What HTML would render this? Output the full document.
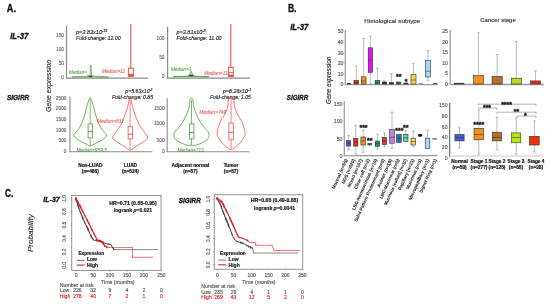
<!DOCTYPE html>
<html><head><meta charset="utf-8"><style>
html,body{margin:0;padding:0;background:#fff;width:550px;height:305px;overflow:hidden}
svg{display:block;font-family:"Liberation Sans", sans-serif;will-change:transform}
</style></head><body>
<svg width="550" height="305" viewBox="0 0 550 305">
<rect width="550" height="305" fill="#fff"/>
<text x="6.8" y="8.6" font-size="10.2" text-anchor="start" font-weight="bold" font-style="normal" fill="#111" stroke="#111" stroke-width="0.3" dominant-baseline="central"  textLength="9.2" lengthAdjust="spacingAndGlyphs">A.</text>
<text x="10.2" y="36" font-size="8.5" text-anchor="start" font-weight="bold" font-style="italic" fill="#111" stroke="#111" stroke-width="0.3" dominant-baseline="central"  textLength="18.2" lengthAdjust="spacingAndGlyphs">IL-37</text>
<text x="6.9" y="97.4" font-size="7.5" text-anchor="start" font-weight="bold" font-style="italic" fill="#111" stroke="#111" stroke-width="0.3" dominant-baseline="central"  textLength="22.4" lengthAdjust="spacingAndGlyphs">SIGIRR</text>
<text x="48.8" y="85.9" font-size="8.0" text-anchor="middle" font-weight="normal" font-style="italic" fill="#222" stroke="#222" stroke-width="0.084" dominant-baseline="central" transform="rotate(-90 48.8 85.9)"  textLength="52" lengthAdjust="spacingAndGlyphs">Gene expression</text>
<line x1="66.5" y1="26" x2="66.5" y2="78.5" stroke="#8c8c8c" stroke-width="1.2"/>
<line x1="66" y1="78.2" x2="148" y2="78.2" stroke="#8c8c8c" stroke-width="1.2"/>
<text x="64" y="35.6" font-size="4.8" text-anchor="end" font-weight="normal" font-style="normal" fill="#555" stroke="#555" stroke-width="0.08" dominant-baseline="central" >150</text>
<text x="64" y="49.9" font-size="4.8" text-anchor="end" font-weight="normal" font-style="normal" fill="#555" stroke="#555" stroke-width="0.08" dominant-baseline="central" >100</text>
<text x="64" y="63.9" font-size="4.8" text-anchor="end" font-weight="normal" font-style="normal" fill="#555" stroke="#555" stroke-width="0.08" dominant-baseline="central" >50</text>
<text x="64" y="77.4" font-size="4.8" text-anchor="end" font-weight="normal" font-style="normal" fill="#555" stroke="#555" stroke-width="0.08" dominant-baseline="central" >0</text>
<text x="76" y="32" font-size="5.4" text-anchor="start" font-weight="normal" font-style="italic" fill="#222" stroke="#222" stroke-width="0.14" dominant-baseline="central"  textLength="31.5" lengthAdjust="spacingAndGlyphs">p=3.83x10<tspan dy="-1.1" font-size="3.7">-19</tspan></text>
<text x="76" y="38.2" font-size="5.4" text-anchor="start" font-weight="normal" font-style="italic" fill="#222" stroke="#222" stroke-width="0.14" dominant-baseline="central"  textLength="44.5" lengthAdjust="spacingAndGlyphs">Fold-change: 12.00</text>
<line x1="130.8" y1="24" x2="130.8" y2="68" stroke="#f0504a" stroke-width="1.1"/>
<rect x="128.4" y="68.2" width="5" height="8.2" fill="#fff" stroke="#f0504a" stroke-width="1"/>
<rect x="128.4" y="73.9" width="5" height="2.5" fill="#f0504a"/>
<text x="102" y="71" font-size="5.2" text-anchor="start" font-weight="normal" font-style="italic" fill="#f0504a" stroke="#f0504a" stroke-width="0.06" dominant-baseline="central"  textLength="23.2" lengthAdjust="spacingAndGlyphs">Median=11</text>
<path d="M71.8,77 L86,76.2 L90,75.5 L90.6,65 L91,65 L91.4,75.5 L95,76.2 L108.5,77 Z" fill="none" stroke="#4c9a3c" stroke-width="0.7"/>
<ellipse cx="90.5" cy="76.3" rx="2.3" ry="0.9" fill="#1f5f1a"/>
<text x="69" y="72" font-size="5.2" text-anchor="start" font-weight="normal" font-style="italic" fill="#4c9a3c" stroke="#4c9a3c" stroke-width="0.06" dominant-baseline="central"  textLength="18" lengthAdjust="spacingAndGlyphs">Median=</text>
<line x1="167.6" y1="26.5" x2="167.6" y2="78.5" stroke="#8c8c8c" stroke-width="1.2"/>
<line x1="166.5" y1="78.2" x2="250" y2="78.2" stroke="#8c8c8c" stroke-width="1.2"/>
<text x="164.5" y="38" font-size="4.8" text-anchor="end" font-weight="normal" font-style="normal" fill="#555" stroke="#555" stroke-width="0.08" dominant-baseline="central" >100</text>
<text x="164.5" y="57" font-size="4.8" text-anchor="end" font-weight="normal" font-style="normal" fill="#555" stroke="#555" stroke-width="0.08" dominant-baseline="central" >50</text>
<text x="164.5" y="76.5" font-size="4.8" text-anchor="end" font-weight="normal" font-style="normal" fill="#555" stroke="#555" stroke-width="0.08" dominant-baseline="central" >0</text>
<text x="176.5" y="32" font-size="5.4" text-anchor="start" font-weight="normal" font-style="italic" fill="#222" stroke="#222" stroke-width="0.14" dominant-baseline="central"  textLength="29.2" lengthAdjust="spacingAndGlyphs">p=3.81x10<tspan dy="-1.1" font-size="3.7">-8</tspan></text>
<text x="176.5" y="38.2" font-size="5.4" text-anchor="start" font-weight="normal" font-style="italic" fill="#222" stroke="#222" stroke-width="0.14" dominant-baseline="central"  textLength="45" lengthAdjust="spacingAndGlyphs">Fold-change: 11.00</text>
<line x1="230.8" y1="24" x2="230.8" y2="67.3" stroke="#f0504a" stroke-width="1.1"/>
<rect x="228.5" y="67.4" width="4.8" height="9.2" fill="#fff" stroke="#f0504a" stroke-width="1"/>
<line x1="228.5" y1="72.5" x2="233.3" y2="72.5" stroke="#f0504a" stroke-width="0.8"/>
<rect x="228.5" y="74.5" width="4.8" height="2.1" fill="#f0504a"/>
<text x="204.2" y="73.3" font-size="5.2" text-anchor="start" font-weight="normal" font-style="italic" fill="#f0504a" stroke="#f0504a" stroke-width="0.06" dominant-baseline="central"  textLength="23.4" lengthAdjust="spacingAndGlyphs">Median=11</text>
<path d="M173,76.7 L187,76.2 L189.5,75.2 L190.7,71.5 L191.3,71.5 L192.5,75.2 L195,76.2 L209,76.7 Z" fill="none" stroke="#4c9a3c" stroke-width="0.8"/>
<ellipse cx="191.2" cy="75.6" rx="2.6" ry="1.1" fill="#1f5f1a"/>
<text x="171" y="68.5" font-size="5.2" text-anchor="start" font-weight="normal" font-style="italic" fill="#4c9a3c" stroke="#4c9a3c" stroke-width="0.06" dominant-baseline="central"  textLength="20.4" lengthAdjust="spacingAndGlyphs">Median=1</text>
<line x1="70" y1="96.5" x2="70" y2="152" stroke="#8c8c8c" stroke-width="1.1"/>
<line x1="69.5" y1="151.8" x2="152.3" y2="151.8" stroke="#8c8c8c" stroke-width="1.1"/>
<text x="66.5" y="98.3" font-size="4.8" text-anchor="end" font-weight="normal" font-style="normal" fill="#555" stroke="#555" stroke-width="0.08" dominant-baseline="central" >2500</text>
<text x="66.5" y="108.9" font-size="4.8" text-anchor="end" font-weight="normal" font-style="normal" fill="#555" stroke="#555" stroke-width="0.08" dominant-baseline="central" >2000</text>
<text x="66.5" y="119.4" font-size="4.8" text-anchor="end" font-weight="normal" font-style="normal" fill="#555" stroke="#555" stroke-width="0.08" dominant-baseline="central" >1500</text>
<text x="66.5" y="130.2" font-size="4.8" text-anchor="end" font-weight="normal" font-style="normal" fill="#555" stroke="#555" stroke-width="0.08" dominant-baseline="central" >1000</text>
<text x="66.5" y="140.7" font-size="4.8" text-anchor="end" font-weight="normal" font-style="normal" fill="#555" stroke="#555" stroke-width="0.08" dominant-baseline="central" >500</text>
<text x="66.5" y="151.5" font-size="4.8" text-anchor="end" font-weight="normal" font-style="normal" fill="#555" stroke="#555" stroke-width="0.08" dominant-baseline="central" >0</text>
<text x="152.8" y="91.2" font-size="5.4" text-anchor="end" font-weight="normal" font-style="italic" fill="#222" stroke="#222" stroke-width="0.14" dominant-baseline="central"  textLength="27.5" lengthAdjust="spacingAndGlyphs">p=5.63x10<tspan dy="-1.1" font-size="3.7">-1</tspan></text>
<text x="153" y="97.3" font-size="5.4" text-anchor="end" font-weight="normal" font-style="italic" fill="#222" stroke="#222" stroke-width="0.14" dominant-baseline="central"  textLength="41" lengthAdjust="spacingAndGlyphs">Fold-change: 0.85</text>
<path d="M90.80,98.40 C91.37,99.38 92.25,101.75 93.00,104.30 C93.75,106.85 94.52,110.92 95.30,113.70 C96.08,116.48 96.77,118.67 97.70,121.00 C98.63,123.33 99.82,125.87 100.90,127.70 C101.98,129.53 103.27,130.77 104.20,132.00 C105.13,133.23 106.58,133.95 106.50,135.10 C106.42,136.25 105.25,137.65 103.70,138.90 C102.15,140.15 99.32,141.45 97.20,142.60 C95.08,143.75 92.30,145.27 91.00,145.80 C89.70,146.33 90.70,146.33 89.40,145.80 C88.10,145.27 85.32,143.75 83.20,142.60 C81.08,141.45 78.25,140.15 76.70,138.90 C75.15,137.65 73.98,136.25 73.90,135.10 C73.82,133.95 75.27,133.23 76.20,132.00 C77.13,130.77 78.42,129.53 79.50,127.70 C80.58,125.87 81.77,123.33 82.70,121.00 C83.63,118.67 84.32,116.48 85.10,113.70 C85.88,110.92 86.65,106.85 87.40,104.30 C88.15,101.75 89.03,99.38 89.60,98.40 C90.17,97.42 90.23,97.42 90.80,98.40 Z" fill="none" stroke="#4c9a3c" stroke-width="0.8"/>
<line x1="90.2" y1="99" x2="90.2" y2="145.8" stroke="#4c9a3c" stroke-width="0.7"/>
<rect x="88.1" y="123.9" width="4.3" height="14" fill="#fff" stroke="#4c9a3c" stroke-width="0.8"/>
<line x1="88.1" y1="131.4" x2="92.4" y2="131.4" stroke="#4c9a3c" stroke-width="1"/>
<path d="M130.70,98.70 C131.18,99.95 131.52,103.08 132.40,106.20 C133.28,109.32 134.75,114.13 136.00,117.40 C137.25,120.67 138.47,123.32 139.90,125.80 C141.33,128.28 143.30,130.28 144.60,132.30 C145.90,134.32 147.87,136.33 147.70,137.90 C147.53,139.47 145.53,140.30 143.60,141.70 C141.67,143.10 138.22,144.92 136.10,146.30 C133.98,147.68 132.03,149.38 130.90,150.00 C129.77,150.62 130.43,150.62 129.30,150.00 C128.17,149.38 126.22,147.68 124.10,146.30 C121.98,144.92 118.53,143.10 116.60,141.70 C114.67,140.30 112.67,139.47 112.50,137.90 C112.33,136.33 114.30,134.32 115.60,132.30 C116.90,130.28 118.87,128.28 120.30,125.80 C121.73,123.32 122.95,120.67 124.20,117.40 C125.45,114.13 126.92,109.32 127.80,106.20 C128.68,103.08 129.02,99.95 129.50,98.70 C129.98,97.45 130.22,97.45 130.70,98.70 Z" fill="none" stroke="#f0504a" stroke-width="0.8"/>
<line x1="130.1" y1="99.5" x2="130.1" y2="150" stroke="#f0504a" stroke-width="0.7"/>
<rect x="128.1" y="126.7" width="4.3" height="12.2" fill="#fff" stroke="#f0504a" stroke-width="0.8"/>
<line x1="128.1" y1="134.2" x2="132.4" y2="134.2" stroke="#f0504a" stroke-width="1"/>
<text x="76.4" y="150.4" font-size="5.2" text-anchor="start" font-weight="normal" font-style="italic" fill="#4c9a3c" stroke="#4c9a3c" stroke-width="0.06" dominant-baseline="central"  textLength="30.4" lengthAdjust="spacingAndGlyphs">Median=959.5</text>
<text x="97" y="120.5" font-size="5.2" text-anchor="start" font-weight="normal" font-style="italic" fill="#f0504a" stroke="#f0504a" stroke-width="0.06" dominant-baseline="central"  textLength="27" lengthAdjust="spacingAndGlyphs">Median=811</text>
<line x1="167.2" y1="98.3" x2="167.2" y2="152" stroke="#8c8c8c" stroke-width="1.1"/>
<line x1="166.7" y1="151.8" x2="249.3" y2="151.8" stroke="#8c8c8c" stroke-width="1.1"/>
<text x="164.6" y="108" font-size="4.8" text-anchor="end" font-weight="normal" font-style="normal" fill="#555" stroke="#555" stroke-width="0.08" dominant-baseline="central" >1500</text>
<text x="164.6" y="123.5" font-size="4.8" text-anchor="end" font-weight="normal" font-style="normal" fill="#555" stroke="#555" stroke-width="0.08" dominant-baseline="central" >1000</text>
<text x="164.6" y="140" font-size="4.8" text-anchor="end" font-weight="normal" font-style="normal" fill="#555" stroke="#555" stroke-width="0.08" dominant-baseline="central" >500</text>
<text x="164.6" y="151.5" font-size="4.8" text-anchor="end" font-weight="normal" font-style="normal" fill="#555" stroke="#555" stroke-width="0.08" dominant-baseline="central" >0</text>
<text x="251.2" y="91" font-size="5.4" text-anchor="end" font-weight="normal" font-style="italic" fill="#222" stroke="#222" stroke-width="0.14" dominant-baseline="central"  textLength="28.3" lengthAdjust="spacingAndGlyphs">p=6.28x10<tspan dy="-1.1" font-size="3.7">-1</tspan></text>
<text x="250.8" y="97.1" font-size="5.4" text-anchor="end" font-weight="normal" font-style="italic" fill="#222" stroke="#222" stroke-width="0.14" dominant-baseline="central"  textLength="40.8" lengthAdjust="spacingAndGlyphs">Fold-change: 1.05</text>
<path d="M192.70,99.10 C193.25,100.28 193.02,103.77 193.60,106.20 C194.18,108.63 195.18,111.22 196.20,113.70 C197.22,116.18 198.32,118.77 199.70,121.10 C201.08,123.43 202.98,125.67 204.50,127.70 C206.02,129.73 208.25,131.43 208.80,133.30 C209.35,135.17 208.85,137.35 207.80,138.90 C206.75,140.45 204.38,141.58 202.50,142.60 C200.62,143.62 198.25,144.55 196.50,145.00 C194.75,145.45 192.92,145.25 192.00,145.30 C191.08,145.35 191.92,145.35 191.00,145.30 C190.08,145.25 188.25,145.45 186.50,145.00 C184.75,144.55 182.38,143.62 180.50,142.60 C178.62,141.58 176.25,140.45 175.20,138.90 C174.15,137.35 173.65,135.17 174.20,133.30 C174.75,131.43 176.98,129.73 178.50,127.70 C180.02,125.67 181.92,123.43 183.30,121.10 C184.68,118.77 185.78,116.18 186.80,113.70 C187.82,111.22 188.82,108.63 189.40,106.20 C189.98,103.77 189.75,100.28 190.30,99.10 C190.85,97.92 192.15,97.92 192.70,99.10 Z" fill="none" stroke="#4c9a3c" stroke-width="0.8"/>
<line x1="191.5" y1="100" x2="191.5" y2="145" stroke="#4c9a3c" stroke-width="0.7"/>
<rect x="189.6" y="123.9" width="4.3" height="15" fill="#fff" stroke="#4c9a3c" stroke-width="0.8"/>
<line x1="189.6" y1="132.3" x2="193.9" y2="132.3" stroke="#4c9a3c" stroke-width="1"/>
<path d="M233.40,98.70 C234.33,99.95 233.78,103.70 234.40,106.20 C235.02,108.70 235.90,111.22 237.10,113.70 C238.30,116.18 240.50,118.93 241.60,121.10 C242.70,123.27 243.12,124.52 243.70,126.70 C244.28,128.88 245.33,132.02 245.10,134.20 C244.87,136.38 243.55,137.93 242.30,139.80 C241.05,141.67 239.22,143.85 237.60,145.40 C235.98,146.95 233.93,148.48 232.60,149.10 C231.27,149.72 230.93,149.72 229.60,149.10 C228.27,148.48 226.22,146.95 224.60,145.40 C222.98,143.85 221.15,141.67 219.90,139.80 C218.65,137.93 217.33,136.38 217.10,134.20 C216.87,132.02 217.92,128.88 218.50,126.70 C219.08,124.52 219.50,123.27 220.60,121.10 C221.70,118.93 223.90,116.18 225.10,113.70 C226.30,111.22 227.18,108.70 227.80,106.20 C228.42,103.70 227.87,99.95 228.80,98.70 C229.73,97.45 232.47,97.45 233.40,98.70 Z" fill="none" stroke="#f0504a" stroke-width="0.8"/>
<line x1="231.1" y1="99" x2="231.1" y2="149.1" stroke="#f0504a" stroke-width="0.7"/>
<rect x="228.9" y="123" width="4.4" height="16.8" fill="#fff" stroke="#f0504a" stroke-width="0.8"/>
<line x1="228.9" y1="132.3" x2="233.3" y2="132.3" stroke="#f0504a" stroke-width="1"/>
<text x="177.5" y="150" font-size="5.2" text-anchor="start" font-weight="normal" font-style="italic" fill="#4c9a3c" stroke="#4c9a3c" stroke-width="0.06" dominant-baseline="central"  textLength="26.2" lengthAdjust="spacingAndGlyphs">Median=713</text>
<text x="199.3" y="112" font-size="5.2" text-anchor="start" font-weight="normal" font-style="italic" fill="#f0504a" stroke="#f0504a" stroke-width="0.06" dominant-baseline="central"  textLength="27" lengthAdjust="spacingAndGlyphs">Median=749</text>
<text x="90.3" y="165.8" font-size="4.8" text-anchor="middle" font-weight="bold" font-style="normal" fill="#111" stroke="#111" stroke-width="0.18" dominant-baseline="central" >Non-LUAD</text>
<text x="90.3" y="171.9" font-size="4.8" text-anchor="middle" font-weight="bold" font-style="normal" fill="#111" stroke="#111" stroke-width="0.18" dominant-baseline="central" >(n=486)</text>
<text x="130.4" y="165.8" font-size="4.8" text-anchor="middle" font-weight="bold" font-style="normal" fill="#111" stroke="#111" stroke-width="0.18" dominant-baseline="central" >LUAD</text>
<text x="130.4" y="171.9" font-size="4.8" text-anchor="middle" font-weight="bold" font-style="normal" fill="#111" stroke="#111" stroke-width="0.18" dominant-baseline="central" >(n=524)</text>
<text x="190.4" y="165.8" font-size="4.8" text-anchor="middle" font-weight="bold" font-style="normal" fill="#111" stroke="#111" stroke-width="0.18" dominant-baseline="central" >Adjacent normal</text>
<text x="190.4" y="171.9" font-size="4.8" text-anchor="middle" font-weight="bold" font-style="normal" fill="#111" stroke="#111" stroke-width="0.18" dominant-baseline="central" >(n=57)</text>
<text x="231" y="165.8" font-size="4.8" text-anchor="middle" font-weight="bold" font-style="normal" fill="#111" stroke="#111" stroke-width="0.18" dominant-baseline="central" >Tumor</text>
<text x="231" y="171.9" font-size="4.8" text-anchor="middle" font-weight="bold" font-style="normal" fill="#111" stroke="#111" stroke-width="0.18" dominant-baseline="central" >(n=57)</text>
<text x="287.9" y="8.0" font-size="10.2" text-anchor="start" font-weight="bold" font-style="normal" fill="#111" stroke="#111" stroke-width="0.3" dominant-baseline="central"  textLength="8.6" lengthAdjust="spacingAndGlyphs">B.</text>
<text x="290.2" y="27.2" font-size="8.3" text-anchor="start" font-weight="bold" font-style="italic" fill="#111" stroke="#111" stroke-width="0.3" dominant-baseline="central"  textLength="18.2" lengthAdjust="spacingAndGlyphs">IL-37</text>
<text x="286.8" y="97.4" font-size="7.4" text-anchor="start" font-weight="bold" font-style="italic" fill="#111" stroke="#111" stroke-width="0.3" dominant-baseline="central"  textLength="21.4" lengthAdjust="spacingAndGlyphs">SIGIRR</text>
<text x="328.6" y="80.4" font-size="7.8" text-anchor="middle" font-weight="normal" font-style="italic" fill="#222" stroke="#222" stroke-width="0.084" dominant-baseline="central" transform="rotate(-90 328.6 80.4)"  textLength="47" lengthAdjust="spacingAndGlyphs">Gene expression</text>
<text x="392.3" y="20" font-size="6.2" text-anchor="middle" font-weight="normal" font-style="normal" fill="#333" stroke="#333" stroke-width="0.12" dominant-baseline="central"  textLength="56" lengthAdjust="spacingAndGlyphs">Histological subtype</text>
<text x="498" y="19.7" font-size="6.2" text-anchor="middle" font-weight="normal" font-style="normal" fill="#333" stroke="#333" stroke-width="0.12" dominant-baseline="central"  textLength="35.5" lengthAdjust="spacingAndGlyphs">Cancer stage</text>
<line x1="345.3" y1="30" x2="345.3" y2="84.6" stroke="#999" stroke-width="1.2"/>
<line x1="345.3" y1="84.6" x2="438" y2="84.6" stroke="#999" stroke-width="1.3"/>
<text x="343.5" y="31" font-size="5.2" text-anchor="end" font-weight="normal" font-style="normal" fill="#555" stroke="#555" stroke-width="0.14" dominant-baseline="central" >50</text>
<line x1="344.3" y1="31" x2="345.3" y2="31" stroke="#999" stroke-width="0.5"/>
<text x="343.5" y="42.3" font-size="5.2" text-anchor="end" font-weight="normal" font-style="normal" fill="#555" stroke="#555" stroke-width="0.14" dominant-baseline="central" >40</text>
<line x1="344.3" y1="42.3" x2="345.3" y2="42.3" stroke="#999" stroke-width="0.5"/>
<text x="343.5" y="52.5" font-size="5.2" text-anchor="end" font-weight="normal" font-style="normal" fill="#555" stroke="#555" stroke-width="0.14" dominant-baseline="central" >30</text>
<line x1="344.3" y1="52.5" x2="345.3" y2="52.5" stroke="#999" stroke-width="0.5"/>
<text x="343.5" y="63.3" font-size="5.2" text-anchor="end" font-weight="normal" font-style="normal" fill="#555" stroke="#555" stroke-width="0.14" dominant-baseline="central" >20</text>
<line x1="344.3" y1="63.3" x2="345.3" y2="63.3" stroke="#999" stroke-width="0.5"/>
<text x="343.5" y="73.5" font-size="5.2" text-anchor="end" font-weight="normal" font-style="normal" fill="#555" stroke="#555" stroke-width="0.14" dominant-baseline="central" >10</text>
<line x1="344.3" y1="73.5" x2="345.3" y2="73.5" stroke="#999" stroke-width="0.5"/>
<text x="343.5" y="84.3" font-size="5.2" text-anchor="end" font-weight="normal" font-style="normal" fill="#555" stroke="#555" stroke-width="0.14" dominant-baseline="central" >0</text>
<line x1="344.3" y1="84.3" x2="345.3" y2="84.3" stroke="#999" stroke-width="0.5"/>
<rect x="347.4" y="83.3" width="3.2000000000000455" height="0.7000000000000028" fill="#5070c0" stroke="#222" stroke-width="0.55"/>
<line x1="356.3" y1="66" x2="356.3" y2="80.5" stroke="#888" stroke-width="0.55"/>
<line x1="354.90000000000003" y1="66" x2="357.7" y2="66" stroke="#888" stroke-width="0.55"/>
<rect x="354" y="80.5" width="4.600000000000023" height="3.5" fill="#e8341c" stroke="#222" stroke-width="0.55"/>
<line x1="354" y1="82.5" x2="358.6" y2="82.5" stroke="#222" stroke-width="0.5"/>
<line x1="363.6" y1="38.6" x2="363.6" y2="76.8" stroke="#888" stroke-width="0.55"/>
<line x1="362.20000000000005" y1="38.6" x2="365.0" y2="38.6" stroke="#888" stroke-width="0.55"/>
<rect x="361.2" y="76.8" width="4.800000000000011" height="7.200000000000003" fill="#f39020" stroke="#222" stroke-width="0.55"/>
<line x1="361.2" y1="81" x2="366" y2="81" stroke="#222" stroke-width="0.5"/>
<line x1="370.4" y1="36.2" x2="370.4" y2="47.8" stroke="#888" stroke-width="0.55"/>
<line x1="369.0" y1="36.2" x2="371.79999999999995" y2="36.2" stroke="#888" stroke-width="0.55"/>
<line x1="370.4" y1="72.4" x2="370.4" y2="84" stroke="#888" stroke-width="0.55"/>
<line x1="369.0" y1="84" x2="371.79999999999995" y2="84" stroke="#888" stroke-width="0.55"/>
<rect x="368.2" y="47.8" width="4.400000000000034" height="24.60000000000001" fill="#e010f0" stroke="#222" stroke-width="0.55"/>
<line x1="368.2" y1="60.1" x2="372.6" y2="60.1" stroke="#222" stroke-width="0.5"/>
<line x1="377.45000000000005" y1="68.2" x2="377.45000000000005" y2="80.5" stroke="#888" stroke-width="0.55"/>
<line x1="376.05000000000007" y1="68.2" x2="378.85" y2="68.2" stroke="#888" stroke-width="0.55"/>
<rect x="375.1" y="80.5" width="4.699999999999989" height="3.5" fill="#20a060" stroke="#222" stroke-width="0.55"/>
<line x1="375.1" y1="82.3" x2="379.8" y2="82.3" stroke="#222" stroke-width="0.5"/>
<line x1="384.4" y1="81" x2="384.4" y2="82" stroke="#888" stroke-width="0.55"/>
<line x1="383.0" y1="81" x2="385.79999999999995" y2="81" stroke="#888" stroke-width="0.55"/>
<rect x="382.2" y="82" width="4.400000000000034" height="2" fill="#333" stroke="#222" stroke-width="0.55"/>
<line x1="391.45000000000005" y1="73.5" x2="391.45000000000005" y2="82.5" stroke="#888" stroke-width="0.55"/>
<line x1="390.05000000000007" y1="73.5" x2="392.85" y2="73.5" stroke="#888" stroke-width="0.55"/>
<rect x="389.3" y="82.5" width="4.300000000000011" height="1.5" fill="#333" stroke="#222" stroke-width="0.55"/>
<rect x="396.6" y="82" width="4.199999999999989" height="2" fill="#3060b0" stroke="#222" stroke-width="0.55"/>
<rect x="403.8" y="83" width="4.199999999999989" height="1" fill="#333" stroke="#222" stroke-width="0.55"/>
<line x1="413.5" y1="63.3" x2="413.5" y2="74.3" stroke="#888" stroke-width="0.55"/>
<line x1="412.1" y1="63.3" x2="414.9" y2="63.3" stroke="#888" stroke-width="0.55"/>
<rect x="411" y="74.3" width="5" height="9.700000000000003" fill="#f8d840" stroke="#222" stroke-width="0.55"/>
<line x1="411" y1="80" x2="416" y2="80" stroke="#222" stroke-width="0.5"/>
<rect x="418.8" y="83.6" width="4.199999999999989" height="0.4000000000000057" fill="#999" stroke="#999" stroke-width="0.55"/>
<line x1="427.9" y1="50.7" x2="427.9" y2="60.7" stroke="#888" stroke-width="0.55"/>
<line x1="426.5" y1="50.7" x2="429.29999999999995" y2="50.7" stroke="#888" stroke-width="0.55"/>
<line x1="427.9" y1="77" x2="427.9" y2="80.3" stroke="#888" stroke-width="0.55"/>
<line x1="426.5" y1="80.3" x2="429.29999999999995" y2="80.3" stroke="#888" stroke-width="0.55"/>
<rect x="425.4" y="60.7" width="5.0" height="16.299999999999997" fill="#a8d8f8" stroke="#222" stroke-width="0.55"/>
<line x1="425.4" y1="71.2" x2="430.4" y2="71.2" stroke="#222" stroke-width="0.5"/>
<rect x="433.6" y="83.5" width="3.3999999999999773" height="0.5" fill="#555" stroke="#555" stroke-width="0.55"/>
<text x="398.7" y="76.3" font-size="7" text-anchor="middle" font-weight="bold" font-style="normal" fill="#111" stroke="#111" stroke-width="0.3" dominant-baseline="central" >**</text>
<text x="406" y="81.3" font-size="7" text-anchor="middle" font-weight="bold" font-style="normal" fill="#111" stroke="#111" stroke-width="0.3" dominant-baseline="central" >*</text>
<line x1="450.2" y1="30" x2="450.2" y2="84.3" stroke="#999" stroke-width="1.2"/>
<line x1="450.2" y1="84.5" x2="543.7" y2="84.5" stroke="#999" stroke-width="1.3"/>
<text x="448" y="31" font-size="5.2" text-anchor="end" font-weight="normal" font-style="normal" fill="#555" stroke="#555" stroke-width="0.14" dominant-baseline="central" >25</text>
<line x1="449.2" y1="31" x2="450.2" y2="31" stroke="#999" stroke-width="0.5"/>
<text x="448" y="42" font-size="5.2" text-anchor="end" font-weight="normal" font-style="normal" fill="#555" stroke="#555" stroke-width="0.14" dominant-baseline="central" >20</text>
<line x1="449.2" y1="42" x2="450.2" y2="42" stroke="#999" stroke-width="0.5"/>
<text x="448" y="52.2" font-size="5.2" text-anchor="end" font-weight="normal" font-style="normal" fill="#555" stroke="#555" stroke-width="0.14" dominant-baseline="central" >15</text>
<line x1="449.2" y1="52.2" x2="450.2" y2="52.2" stroke="#999" stroke-width="0.5"/>
<text x="448" y="62.6" font-size="5.2" text-anchor="end" font-weight="normal" font-style="normal" fill="#555" stroke="#555" stroke-width="0.14" dominant-baseline="central" >10</text>
<line x1="449.2" y1="62.6" x2="450.2" y2="62.6" stroke="#999" stroke-width="0.5"/>
<text x="448" y="73" font-size="5.2" text-anchor="end" font-weight="normal" font-style="normal" fill="#555" stroke="#555" stroke-width="0.14" dominant-baseline="central" >5</text>
<line x1="449.2" y1="73" x2="450.2" y2="73" stroke="#999" stroke-width="0.5"/>
<text x="448" y="83.5" font-size="5.2" text-anchor="end" font-weight="normal" font-style="normal" fill="#555" stroke="#555" stroke-width="0.14" dominant-baseline="central" >0</text>
<line x1="449.2" y1="83.5" x2="450.2" y2="83.5" stroke="#999" stroke-width="0.5"/>
<rect x="454.4" y="83.2" width="9.600000000000023" height="0.7999999999999972" fill="#5060b0" stroke="#222" stroke-width="0.55"/>
<line x1="478.45000000000005" y1="32.8" x2="478.45000000000005" y2="75.6" stroke="#888" stroke-width="0.55"/>
<line x1="477.05000000000007" y1="32.8" x2="479.85" y2="32.8" stroke="#888" stroke-width="0.55"/>
<rect x="473.6" y="75.6" width="9.699999999999989" height="8.400000000000006" fill="#f39020" stroke="#222" stroke-width="0.55"/>
<line x1="497.1" y1="54.6" x2="497.1" y2="76.4" stroke="#888" stroke-width="0.55"/>
<line x1="495.70000000000005" y1="54.6" x2="498.5" y2="54.6" stroke="#888" stroke-width="0.55"/>
<rect x="492" y="76.4" width="10.199999999999989" height="7.599999999999994" fill="#b87030" stroke="#222" stroke-width="0.55"/>
<line x1="516.4" y1="41.5" x2="516.4" y2="78.2" stroke="#888" stroke-width="0.55"/>
<line x1="515.0" y1="41.5" x2="517.8" y2="41.5" stroke="#888" stroke-width="0.55"/>
<rect x="511.4" y="78.2" width="10.0" height="5.799999999999997" fill="#b0e020" stroke="#222" stroke-width="0.55"/>
<line x1="535.5" y1="70.9" x2="535.5" y2="80.9" stroke="#888" stroke-width="0.55"/>
<line x1="534.1" y1="70.9" x2="536.9" y2="70.9" stroke="#888" stroke-width="0.55"/>
<rect x="530.5" y="80.9" width="10.0" height="3.0999999999999943" fill="#e83010" stroke="#222" stroke-width="0.55"/>
<line x1="344.3" y1="101" x2="344.3" y2="156" stroke="#999" stroke-width="1.2"/>
<line x1="344.3" y1="155.6" x2="437.5" y2="155.6" stroke="#999" stroke-width="1.2"/>
<text x="342.5" y="103.8" font-size="5.2" text-anchor="end" font-weight="normal" font-style="normal" fill="#555" stroke="#555" stroke-width="0.14" dominant-baseline="central" >150</text>
<line x1="343.3" y1="103.8" x2="344.3" y2="103.8" stroke="#999" stroke-width="0.5"/>
<text x="342.5" y="121" font-size="5.2" text-anchor="end" font-weight="normal" font-style="normal" fill="#555" stroke="#555" stroke-width="0.14" dominant-baseline="central" >100</text>
<line x1="343.3" y1="121" x2="344.3" y2="121" stroke="#999" stroke-width="0.5"/>
<text x="342.5" y="138.6" font-size="5.2" text-anchor="end" font-weight="normal" font-style="normal" fill="#555" stroke="#555" stroke-width="0.14" dominant-baseline="central" >50</text>
<line x1="343.3" y1="138.6" x2="344.3" y2="138.6" stroke="#999" stroke-width="0.5"/>
<text x="342.5" y="155.8" font-size="5.2" text-anchor="end" font-weight="normal" font-style="normal" fill="#555" stroke="#555" stroke-width="0.14" dominant-baseline="central" >0</text>
<line x1="343.3" y1="155.8" x2="344.3" y2="155.8" stroke="#999" stroke-width="0.5"/>
<line x1="348.55" y1="135.6" x2="348.55" y2="140.7" stroke="#888" stroke-width="0.55"/>
<line x1="347.15000000000003" y1="135.6" x2="349.95" y2="135.6" stroke="#888" stroke-width="0.55"/>
<line x1="348.55" y1="146.1" x2="348.55" y2="150" stroke="#888" stroke-width="0.55"/>
<line x1="347.15000000000003" y1="150" x2="349.95" y2="150" stroke="#888" stroke-width="0.55"/>
<rect x="346.5" y="140.7" width="4.100000000000023" height="5.400000000000006" fill="#3b5fd8" stroke="#222" stroke-width="0.55"/>
<line x1="346.5" y1="143.3" x2="350.6" y2="143.3" stroke="#222" stroke-width="0.5"/>
<line x1="355.79999999999995" y1="125.4" x2="355.79999999999995" y2="138.3" stroke="#888" stroke-width="0.55"/>
<line x1="354.4" y1="125.4" x2="357.19999999999993" y2="125.4" stroke="#888" stroke-width="0.55"/>
<line x1="355.79999999999995" y1="146.1" x2="355.79999999999995" y2="154" stroke="#888" stroke-width="0.55"/>
<line x1="354.4" y1="154" x2="357.19999999999993" y2="154" stroke="#888" stroke-width="0.55"/>
<rect x="353.7" y="138.3" width="4.199999999999989" height="7.799999999999983" fill="#e83020" stroke="#222" stroke-width="0.55"/>
<line x1="353.7" y1="141.9" x2="357.9" y2="141.9" stroke="#222" stroke-width="0.5"/>
<line x1="363.15" y1="130.2" x2="363.15" y2="137" stroke="#888" stroke-width="0.55"/>
<line x1="361.75" y1="130.2" x2="364.54999999999995" y2="130.2" stroke="#888" stroke-width="0.55"/>
<line x1="363.15" y1="145" x2="363.15" y2="152.2" stroke="#888" stroke-width="0.55"/>
<line x1="361.75" y1="152.2" x2="364.54999999999995" y2="152.2" stroke="#888" stroke-width="0.55"/>
<rect x="360.9" y="137" width="4.5" height="8" fill="#f39020" stroke="#222" stroke-width="0.55"/>
<line x1="360.9" y1="141" x2="365.4" y2="141" stroke="#222" stroke-width="0.5"/>
<rect x="367.8" y="143.4" width="3.8999999999999773" height="1.5999999999999943" fill="#8040a0" stroke="#222" stroke-width="0.55"/>
<line x1="377.4" y1="134.2" x2="377.4" y2="141" stroke="#888" stroke-width="0.55"/>
<line x1="376.0" y1="134.2" x2="378.79999999999995" y2="134.2" stroke="#888" stroke-width="0.55"/>
<line x1="377.4" y1="146.4" x2="377.4" y2="149" stroke="#888" stroke-width="0.55"/>
<line x1="376.0" y1="149" x2="378.79999999999995" y2="149" stroke="#888" stroke-width="0.55"/>
<rect x="375.3" y="141" width="4.199999999999989" height="5.400000000000006" fill="#10a050" stroke="#222" stroke-width="0.55"/>
<line x1="375.3" y1="143.5" x2="379.5" y2="143.5" stroke="#222" stroke-width="0.5"/>
<line x1="384.45000000000005" y1="132.9" x2="384.45000000000005" y2="137.3" stroke="#888" stroke-width="0.55"/>
<line x1="383.05000000000007" y1="132.9" x2="385.85" y2="132.9" stroke="#888" stroke-width="0.55"/>
<line x1="384.45000000000005" y1="144.5" x2="384.45000000000005" y2="147" stroke="#888" stroke-width="0.55"/>
<line x1="383.05000000000007" y1="147" x2="385.85" y2="147" stroke="#888" stroke-width="0.55"/>
<rect x="382.3" y="137.3" width="4.300000000000011" height="7.199999999999989" fill="#d04040" stroke="#222" stroke-width="0.55"/>
<line x1="382.3" y1="141" x2="386.6" y2="141" stroke="#222" stroke-width="0.5"/>
<line x1="392.0" y1="112.2" x2="392.0" y2="129.4" stroke="#888" stroke-width="0.55"/>
<line x1="390.6" y1="112.2" x2="393.4" y2="112.2" stroke="#888" stroke-width="0.55"/>
<line x1="392.0" y1="143.2" x2="392.0" y2="148.5" stroke="#888" stroke-width="0.55"/>
<line x1="390.6" y1="148.5" x2="393.4" y2="148.5" stroke="#888" stroke-width="0.55"/>
<rect x="389.7" y="129.4" width="4.600000000000023" height="13.799999999999983" fill="#c080e0" stroke="#222" stroke-width="0.55"/>
<line x1="389.7" y1="137.4" x2="394.3" y2="137.4" stroke="#222" stroke-width="0.5"/>
<rect x="396.6" y="134.5" width="4.599999999999966" height="7.900000000000006" fill="#2070c0" stroke="#222" stroke-width="0.55"/>
<line x1="396.6" y1="138.4" x2="401.2" y2="138.4" stroke="#222" stroke-width="0.5"/>
<line x1="405.8" y1="130.8" x2="405.8" y2="134.3" stroke="#888" stroke-width="0.55"/>
<line x1="404.40000000000003" y1="130.8" x2="407.2" y2="130.8" stroke="#888" stroke-width="0.55"/>
<rect x="403.6" y="134.3" width="4.399999999999977" height="7.299999999999983" fill="#60e0a0" stroke="#222" stroke-width="0.55"/>
<line x1="403.6" y1="138" x2="408" y2="138" stroke="#222" stroke-width="0.5"/>
<line x1="413.25" y1="131.3" x2="413.25" y2="138.2" stroke="#888" stroke-width="0.55"/>
<line x1="411.85" y1="131.3" x2="414.65" y2="131.3" stroke="#888" stroke-width="0.55"/>
<line x1="413.25" y1="145" x2="413.25" y2="146.9" stroke="#888" stroke-width="0.55"/>
<line x1="411.85" y1="146.9" x2="414.65" y2="146.9" stroke="#888" stroke-width="0.55"/>
<rect x="411" y="138.2" width="4.5" height="6.800000000000011" fill="#f0d850" stroke="#222" stroke-width="0.55"/>
<line x1="411" y1="141.5" x2="415.5" y2="141.5" stroke="#222" stroke-width="0.5"/>
<ellipse cx="420.1" cy="135.4" rx="2.3" ry="1.3" fill="#111"/>
<line x1="427.5" y1="130" x2="427.5" y2="138.2" stroke="#888" stroke-width="0.55"/>
<line x1="426.1" y1="130" x2="428.9" y2="130" stroke="#888" stroke-width="0.55"/>
<rect x="425.2" y="138.2" width="4.600000000000023" height="10.300000000000011" fill="#a8d8f8" stroke="#222" stroke-width="0.55"/>
<line x1="432.3" y1="138.9" x2="436.9" y2="138.9" stroke="#111" stroke-width="0.9"/>
<text x="363.5" y="127.1" font-size="7" text-anchor="middle" font-weight="bold" font-style="normal" fill="#111" stroke="#111" stroke-width="0.3" dominant-baseline="central" >***</text>
<text x="369.8" y="140.4" font-size="7" text-anchor="middle" font-weight="bold" font-style="normal" fill="#111" stroke="#111" stroke-width="0.3" dominant-baseline="central" >**</text>
<text x="399.3" y="130.2" font-size="7" text-anchor="middle" font-weight="bold" font-style="normal" fill="#111" stroke="#111" stroke-width="0.3" dominant-baseline="central" >***</text>
<text x="405.8" y="127.8" font-size="7" text-anchor="middle" font-weight="bold" font-style="normal" fill="#111" stroke="#111" stroke-width="0.3" dominant-baseline="central" >**</text>
<text x="346.3" y="159.2" font-size="4.5" text-anchor="end" font-weight="bold" font-style="normal" fill="#222" stroke="#222" stroke-width="0.05" dominant-baseline="central" transform="rotate(-66 346.3 159.2)"  textLength="32.1" lengthAdjust="spacingAndGlyphs">Normal (n=59)</text>
<text x="353.725" y="159.2" font-size="4.5" text-anchor="end" font-weight="bold" font-style="normal" fill="#222" stroke="#222" stroke-width="0.05" dominant-baseline="central" transform="rotate(-66 353.725 159.2)"  textLength="26.7" lengthAdjust="spacingAndGlyphs">NOS (n=320)</text>
<text x="361.15000000000003" y="159.2" font-size="4.5" text-anchor="end" font-weight="bold" font-style="normal" fill="#222" stroke="#222" stroke-width="0.05" dominant-baseline="central" transform="rotate(-66 361.15000000000003 159.2)"  textLength="30.5" lengthAdjust="spacingAndGlyphs">Mixed (n=107)</text>
<text x="368.575" y="159.2" font-size="4.5" text-anchor="end" font-weight="bold" font-style="normal" fill="#222" stroke="#222" stroke-width="0.05" dominant-baseline="central" transform="rotate(-66 368.575 159.2)"  textLength="32.4" lengthAdjust="spacingAndGlyphs">Clear cell (n=2)</text>
<text x="376.0" y="159.2" font-size="4.5" text-anchor="end" font-weight="bold" font-style="normal" fill="#222" stroke="#222" stroke-width="0.05" dominant-baseline="central" transform="rotate(-66 376.0 159.2)"  textLength="55.6" lengthAdjust="spacingAndGlyphs">LBC-Nonmucinous (n=19)</text>
<text x="383.425" y="159.2" font-size="4.5" text-anchor="end" font-weight="bold" font-style="normal" fill="#222" stroke="#222" stroke-width="0.05" dominant-baseline="central" transform="rotate(-66 383.425 159.2)"  textLength="68.2" lengthAdjust="spacingAndGlyphs">Solid Pattern Predominant (n=5)</text>
<text x="390.85" y="159.2" font-size="4.5" text-anchor="end" font-weight="bold" font-style="normal" fill="#222" stroke="#222" stroke-width="0.05" dominant-baseline="central" transform="rotate(-66 390.85 159.2)"  textLength="30.5" lengthAdjust="spacingAndGlyphs">Acinar (n=18)</text>
<text x="398.27500000000003" y="159.2" font-size="4.5" text-anchor="end" font-weight="bold" font-style="normal" fill="#222" stroke="#222" stroke-width="0.05" dominant-baseline="central" transform="rotate(-66 398.27500000000003 159.2)"  textLength="43" lengthAdjust="spacingAndGlyphs">LBC-Mucinous (n=5)</text>
<text x="405.7" y="159.2" font-size="4.5" text-anchor="end" font-weight="bold" font-style="normal" fill="#222" stroke="#222" stroke-width="0.05" dominant-baseline="central" transform="rotate(-66 405.7 159.2)"  textLength="49.9" lengthAdjust="spacingAndGlyphs">Mucinous (colloid) (n=10)</text>
<text x="413.125" y="159.2" font-size="4.5" text-anchor="end" font-weight="bold" font-style="normal" fill="#222" stroke="#222" stroke-width="0.05" dominant-baseline="central" transform="rotate(-66 413.125 159.2)"  textLength="33.7" lengthAdjust="spacingAndGlyphs">Papillary (n=23)</text>
<text x="420.55" y="159.2" font-size="4.5" text-anchor="end" font-weight="bold" font-style="normal" fill="#222" stroke="#222" stroke-width="0.05" dominant-baseline="central" transform="rotate(-66 420.55 159.2)"  textLength="32.5" lengthAdjust="spacingAndGlyphs">Mucinous (n=3)</text>
<text x="427.975" y="159.2" font-size="4.5" text-anchor="end" font-weight="bold" font-style="normal" fill="#222" stroke="#222" stroke-width="0.05" dominant-baseline="central" transform="rotate(-66 427.975 159.2)"  textLength="44.5" lengthAdjust="spacingAndGlyphs">Micropapillary (n=3)</text>
<text x="435.4" y="159.2" font-size="4.5" text-anchor="end" font-weight="bold" font-style="normal" fill="#222" stroke="#222" stroke-width="0.05" dominant-baseline="central" transform="rotate(-66 435.4 159.2)"  textLength="36.5" lengthAdjust="spacingAndGlyphs">Signet Ring (n=1)</text>
<line x1="449.6" y1="103" x2="449.6" y2="156.5" stroke="#777" stroke-width="1.3"/>
<line x1="449.6" y1="156" x2="543" y2="156" stroke="#ccc" stroke-width="1.0"/>
<text x="447.6" y="105.3" font-size="5.2" text-anchor="end" font-weight="normal" font-style="normal" fill="#555" stroke="#555" stroke-width="0.14" dominant-baseline="central" >150</text>
<line x1="448.6" y1="105.3" x2="449.6" y2="105.3" stroke="#999" stroke-width="0.5"/>
<text x="447.6" y="115.7" font-size="5.2" text-anchor="end" font-weight="normal" font-style="normal" fill="#555" stroke="#555" stroke-width="0.14" dominant-baseline="central" >80</text>
<line x1="448.6" y1="115.7" x2="449.6" y2="115.7" stroke="#999" stroke-width="0.5"/>
<text x="447.6" y="126.5" font-size="5.2" text-anchor="end" font-weight="normal" font-style="normal" fill="#555" stroke="#555" stroke-width="0.14" dominant-baseline="central" >60</text>
<line x1="448.6" y1="126.5" x2="449.6" y2="126.5" stroke="#999" stroke-width="0.5"/>
<text x="447.6" y="136.8" font-size="5.2" text-anchor="end" font-weight="normal" font-style="normal" fill="#555" stroke="#555" stroke-width="0.14" dominant-baseline="central" >40</text>
<line x1="448.6" y1="136.8" x2="449.6" y2="136.8" stroke="#999" stroke-width="0.5"/>
<text x="447.6" y="146.7" font-size="5.2" text-anchor="end" font-weight="normal" font-style="normal" fill="#555" stroke="#555" stroke-width="0.14" dominant-baseline="central" >20</text>
<line x1="448.6" y1="146.7" x2="449.6" y2="146.7" stroke="#999" stroke-width="0.5"/>
<text x="447.6" y="157.5" font-size="5.2" text-anchor="end" font-weight="normal" font-style="normal" fill="#555" stroke="#555" stroke-width="0.14" dominant-baseline="central" >0</text>
<line x1="448.6" y1="157.5" x2="449.6" y2="157.5" stroke="#999" stroke-width="0.5"/>
<line x1="459.5" y1="127.8" x2="459.5" y2="134.5" stroke="#888" stroke-width="0.55"/>
<line x1="458.1" y1="127.8" x2="460.9" y2="127.8" stroke="#888" stroke-width="0.55"/>
<line x1="459.5" y1="140.9" x2="459.5" y2="147.8" stroke="#888" stroke-width="0.55"/>
<line x1="458.1" y1="147.8" x2="460.9" y2="147.8" stroke="#888" stroke-width="0.55"/>
<rect x="454.9" y="134.5" width="9.200000000000045" height="6.400000000000006" fill="#4060d8" stroke="#222" stroke-width="0.55"/>
<line x1="454.9" y1="137.5" x2="464.1" y2="137.5" stroke="#222" stroke-width="0.5"/>
<line x1="478.8" y1="110" x2="478.8" y2="128.3" stroke="#888" stroke-width="0.55"/>
<line x1="477.40000000000003" y1="110" x2="480.2" y2="110" stroke="#888" stroke-width="0.55"/>
<line x1="478.8" y1="139.8" x2="478.8" y2="154.2" stroke="#888" stroke-width="0.55"/>
<line x1="477.40000000000003" y1="154.2" x2="480.2" y2="154.2" stroke="#888" stroke-width="0.55"/>
<rect x="474" y="128.3" width="9.600000000000023" height="11.5" fill="#f39020" stroke="#222" stroke-width="0.55"/>
<line x1="474" y1="134.5" x2="483.6" y2="134.5" stroke="#222" stroke-width="0.5"/>
<line x1="496.95" y1="117.3" x2="496.95" y2="132.2" stroke="#888" stroke-width="0.55"/>
<line x1="495.55" y1="117.3" x2="498.34999999999997" y2="117.3" stroke="#888" stroke-width="0.55"/>
<line x1="496.95" y1="140.9" x2="496.95" y2="150.1" stroke="#888" stroke-width="0.55"/>
<line x1="495.55" y1="150.1" x2="498.34999999999997" y2="150.1" stroke="#888" stroke-width="0.55"/>
<rect x="492.4" y="132.2" width="9.100000000000023" height="8.700000000000017" fill="#b87030" stroke="#222" stroke-width="0.55"/>
<line x1="492.4" y1="137.5" x2="501.5" y2="137.5" stroke="#222" stroke-width="0.5"/>
<line x1="516.2" y1="118" x2="516.2" y2="132.9" stroke="#888" stroke-width="0.55"/>
<line x1="514.8000000000001" y1="118" x2="517.6" y2="118" stroke="#888" stroke-width="0.55"/>
<line x1="516.2" y1="142.8" x2="516.2" y2="154.2" stroke="#888" stroke-width="0.55"/>
<line x1="514.8000000000001" y1="154.2" x2="517.6" y2="154.2" stroke="#888" stroke-width="0.55"/>
<rect x="511.6" y="132.9" width="9.199999999999932" height="9.900000000000006" fill="#b8e810" stroke="#222" stroke-width="0.55"/>
<line x1="511.6" y1="137.5" x2="520.8" y2="137.5" stroke="#222" stroke-width="0.5"/>
<line x1="534.4000000000001" y1="121" x2="534.4000000000001" y2="136.3" stroke="#888" stroke-width="0.55"/>
<line x1="533.0000000000001" y1="121" x2="535.8000000000001" y2="121" stroke="#888" stroke-width="0.55"/>
<line x1="534.4000000000001" y1="145" x2="534.4000000000001" y2="152" stroke="#888" stroke-width="0.55"/>
<line x1="533.0000000000001" y1="152" x2="535.8000000000001" y2="152" stroke="#888" stroke-width="0.55"/>
<rect x="529.6" y="136.3" width="9.600000000000023" height="8.699999999999989" fill="#f03010" stroke="#222" stroke-width="0.55"/>
<text x="478.8" y="124.2" font-size="7" text-anchor="middle" font-weight="bold" font-style="normal" fill="#111" stroke="#111" stroke-width="0.3" dominant-baseline="central" >****</text>
<line x1="478" y1="104.2" x2="536" y2="104.2" stroke="#666" stroke-width="0.5"/>
<line x1="536" y1="104.2" x2="536" y2="106" stroke="#666" stroke-width="0.5"/>
<text x="506.6" y="104.2" font-size="7" text-anchor="middle" font-weight="bold" font-style="normal" fill="#111" stroke="#111" stroke-width="0.3" dominant-baseline="central" >****</text>
<line x1="478" y1="108.1" x2="497" y2="108.1" stroke="#666" stroke-width="0.5"/>
<line x1="497" y1="108.1" x2="497" y2="110" stroke="#666" stroke-width="0.5"/>
<text x="487" y="107.0" font-size="7" text-anchor="middle" font-weight="bold" font-style="normal" fill="#111" stroke="#111" stroke-width="0.3" dominant-baseline="central" >***</text>
<line x1="497" y1="112.2" x2="536" y2="112.2" stroke="#666" stroke-width="0.5"/>
<line x1="497" y1="112.2" x2="497" y2="114" stroke="#666" stroke-width="0.5"/>
<line x1="536" y1="112.2" x2="536" y2="114" stroke="#666" stroke-width="0.5"/>
<text x="516.5" y="111.6" font-size="7" text-anchor="middle" font-weight="bold" font-style="normal" fill="#111" stroke="#111" stroke-width="0.3" dominant-baseline="central" >**</text>
<line x1="517" y1="116.1" x2="536" y2="116.1" stroke="#666" stroke-width="0.5"/>
<line x1="517" y1="116.1" x2="517" y2="118" stroke="#666" stroke-width="0.5"/>
<line x1="536" y1="116.1" x2="536" y2="118" stroke="#666" stroke-width="0.5"/>
<text x="525.4" y="115.6" font-size="7" text-anchor="middle" font-weight="bold" font-style="normal" fill="#111" stroke="#111" stroke-width="0.3" dominant-baseline="central" >*</text>
<text x="459.6" y="161.4" font-size="4.8" text-anchor="middle" font-weight="bold" font-style="normal" fill="#111" stroke="#111" stroke-width="0.18" dominant-baseline="central" >Normal</text>
<text x="459.6" y="167.1" font-size="4.8" text-anchor="middle" font-weight="bold" font-style="normal" fill="#111" stroke="#111" stroke-width="0.18" dominant-baseline="central" >(n=59)</text>
<text x="479" y="161.4" font-size="4.8" text-anchor="middle" font-weight="bold" font-style="normal" fill="#111" stroke="#111" stroke-width="0.18" dominant-baseline="central" >Stage 1</text>
<text x="479" y="167.1" font-size="4.8" text-anchor="middle" font-weight="bold" font-style="normal" fill="#111" stroke="#111" stroke-width="0.18" dominant-baseline="central" >(n=277)</text>
<text x="497" y="161.4" font-size="4.8" text-anchor="middle" font-weight="bold" font-style="normal" fill="#111" stroke="#111" stroke-width="0.18" dominant-baseline="central" >Stage 2</text>
<text x="497" y="167.1" font-size="4.8" text-anchor="middle" font-weight="bold" font-style="normal" fill="#111" stroke="#111" stroke-width="0.18" dominant-baseline="central" >(n=125)</text>
<text x="516" y="161.4" font-size="4.8" text-anchor="middle" font-weight="bold" font-style="normal" fill="#111" stroke="#111" stroke-width="0.18" dominant-baseline="central" >Stage 3</text>
<text x="516" y="167.1" font-size="4.8" text-anchor="middle" font-weight="bold" font-style="normal" fill="#111" stroke="#111" stroke-width="0.18" dominant-baseline="central" >(n=85)</text>
<text x="536" y="161.4" font-size="4.8" text-anchor="middle" font-weight="bold" font-style="normal" fill="#111" stroke="#111" stroke-width="0.18" dominant-baseline="central" >Stage 4</text>
<text x="536" y="167.1" font-size="4.8" text-anchor="middle" font-weight="bold" font-style="normal" fill="#111" stroke="#111" stroke-width="0.18" dominant-baseline="central" >(n=28)</text>
<text x="5.0" y="193.2" font-size="10.5" text-anchor="start" font-weight="bold" font-style="normal" fill="#111" stroke="#111" stroke-width="0.3" dominant-baseline="central"  textLength="8.4" lengthAdjust="spacingAndGlyphs">C.</text>
<text x="43.3" y="199.7" font-size="7.4" text-anchor="start" font-weight="bold" font-style="italic" fill="#111" stroke="#111" stroke-width="0.3" dominant-baseline="central"  textLength="16.5" lengthAdjust="spacingAndGlyphs">IL-37</text>
<text x="30.2" y="233.1" font-size="7.8" text-anchor="middle" font-weight="normal" font-style="italic" fill="#222" stroke="#222" stroke-width="0.084" dominant-baseline="central" transform="rotate(-90 30.2 233.1)"  textLength="38" lengthAdjust="spacingAndGlyphs">Probability</text>
<text x="178.8" y="200.7" font-size="7.4" text-anchor="start" font-weight="bold" font-style="italic" fill="#111" stroke="#111" stroke-width="0.3" dominant-baseline="central"  textLength="22" lengthAdjust="spacingAndGlyphs">SIGIRR</text>
<rect x="71.8" y="195.4" width="89.2" height="74.9" fill="none" stroke="#666" stroke-width="0.7"/>
<text x="64.7" y="265.4" font-size="4.8" text-anchor="middle" font-weight="normal" font-style="normal" fill="#555" stroke="#555" stroke-width="0.14" dominant-baseline="central" transform="rotate(-90 64.7 265.4)" >0.0</text>
<line x1="70.6" y1="265.4" x2="71.8" y2="265.4" stroke="#666" stroke-width="0.5"/>
<text x="64.7" y="251.9" font-size="4.8" text-anchor="middle" font-weight="normal" font-style="normal" fill="#555" stroke="#555" stroke-width="0.14" dominant-baseline="central" transform="rotate(-90 64.7 251.9)" >0.2</text>
<line x1="70.6" y1="251.9" x2="71.8" y2="251.9" stroke="#666" stroke-width="0.5"/>
<text x="64.7" y="238.5" font-size="4.8" text-anchor="middle" font-weight="normal" font-style="normal" fill="#555" stroke="#555" stroke-width="0.14" dominant-baseline="central" transform="rotate(-90 64.7 238.5)" >0.4</text>
<line x1="70.6" y1="238.5" x2="71.8" y2="238.5" stroke="#666" stroke-width="0.5"/>
<text x="64.7" y="225.1" font-size="4.8" text-anchor="middle" font-weight="normal" font-style="normal" fill="#555" stroke="#555" stroke-width="0.14" dominant-baseline="central" transform="rotate(-90 64.7 225.1)" >0.6</text>
<line x1="70.6" y1="225.1" x2="71.8" y2="225.1" stroke="#666" stroke-width="0.5"/>
<text x="64.7" y="211.7" font-size="4.8" text-anchor="middle" font-weight="normal" font-style="normal" fill="#555" stroke="#555" stroke-width="0.14" dominant-baseline="central" transform="rotate(-90 64.7 211.7)" >0.8</text>
<line x1="70.6" y1="211.7" x2="71.8" y2="211.7" stroke="#666" stroke-width="0.5"/>
<text x="64.7" y="198.3" font-size="4.8" text-anchor="middle" font-weight="normal" font-style="normal" fill="#555" stroke="#555" stroke-width="0.14" dominant-baseline="central" transform="rotate(-90 64.7 198.3)" >1.0</text>
<line x1="70.6" y1="198.3" x2="71.8" y2="198.3" stroke="#666" stroke-width="0.5"/>
<text x="76.2" y="275" font-size="5" text-anchor="middle" font-weight="normal" font-style="normal" fill="#555" stroke="#555" stroke-width="0.14" dominant-baseline="central" >0</text>
<line x1="76.2" y1="270.3" x2="76.2" y2="271.5" stroke="#666" stroke-width="0.5"/>
<text x="93.2" y="275" font-size="5" text-anchor="middle" font-weight="normal" font-style="normal" fill="#555" stroke="#555" stroke-width="0.14" dominant-baseline="central" >50</text>
<line x1="93.2" y1="270.3" x2="93.2" y2="271.5" stroke="#666" stroke-width="0.5"/>
<text x="110" y="275" font-size="5" text-anchor="middle" font-weight="normal" font-style="normal" fill="#555" stroke="#555" stroke-width="0.14" dominant-baseline="central" >100</text>
<line x1="110" y1="270.3" x2="110" y2="271.5" stroke="#666" stroke-width="0.5"/>
<text x="126.8" y="275" font-size="5" text-anchor="middle" font-weight="normal" font-style="normal" fill="#555" stroke="#555" stroke-width="0.14" dominant-baseline="central" >150</text>
<line x1="126.8" y1="270.3" x2="126.8" y2="271.5" stroke="#666" stroke-width="0.5"/>
<text x="143.8" y="275" font-size="5" text-anchor="middle" font-weight="normal" font-style="normal" fill="#555" stroke="#555" stroke-width="0.14" dominant-baseline="central" >200</text>
<line x1="143.8" y1="270.3" x2="143.8" y2="271.5" stroke="#666" stroke-width="0.5"/>
<text x="161.3" y="275" font-size="5" text-anchor="middle" font-weight="normal" font-style="normal" fill="#555" stroke="#555" stroke-width="0.14" dominant-baseline="central" >250</text>
<line x1="161.3" y1="270.3" x2="161.3" y2="271.5" stroke="#666" stroke-width="0.5"/>
<text x="117.75" y="281.8" font-size="5.2" text-anchor="middle" font-weight="normal" font-style="normal" fill="#555" stroke="#555" stroke-width="0.14" dominant-baseline="central"  textLength="33.5" lengthAdjust="spacingAndGlyphs">Time (months)</text>
<path d="M113.90,249.60 L158.00,249.60" fill="none" stroke="#555" stroke-width="0.7" stroke-linejoin="round"/>
<path d="M107.60,247.50 L132.50,247.50 L132.50,257.30 L153.10,257.30" fill="none" stroke="#f04848" stroke-width="0.75" stroke-linejoin="round"/>
<line x1="132.5" y1="246.6" x2="132.5" y2="248.4" stroke="#f25a5a" stroke-width="0.5"/>
<line x1="132.5" y1="256.40000000000003" x2="132.5" y2="258.2" stroke="#f25a5a" stroke-width="0.5"/>
<path d="M75.60,198.40 L78.10,205.60 L79.90,211.00 L83.50,220.00 L87.10,227.30 L89.90,233.60 L92.60,239.00 L94.40,240.30 L99.20,240.50 L104.80,243.30 L111.10,244.70 L113.90,249.60" fill="none" stroke="#333" stroke-width="0.9" stroke-linejoin="round"/>
<path d="M77.89,203.80 L77.89,206.20 M84.93,221.70 L84.93,224.10 M80.21,210.58 L80.21,212.98 M87.03,225.97 L87.03,228.37 M87.77,227.62 L87.77,230.02 M75.89,198.04 L75.89,200.44 M75.62,197.26 L75.62,199.66 M100.27,239.83 L100.27,242.23 M78.22,204.77 L78.22,207.17 M77.84,203.64 L77.84,206.04 M113.66,247.98 L113.66,250.38 M82.67,216.73 L82.67,219.13 M100.18,239.79 L100.18,242.19 M82.83,217.13 L82.83,219.53 M88.23,228.65 L88.23,231.05 M76.70,200.37 L76.70,202.77 M88.09,228.32 L88.09,230.72 M103.03,241.22 L103.03,243.62 M84.22,220.26 L84.22,222.66 M92.13,236.85 L92.13,239.25 M89.36,231.19 L89.36,233.59 M75.88,198.01 L75.88,200.41 M93.03,238.11 L93.03,240.51 M86.57,225.03 L86.57,227.43 M78.91,206.83 L78.91,209.23 M75.69,197.45 L75.69,199.85 M102.80,241.10 L102.80,243.50 M82.74,216.89 L82.74,219.29 M91.20,235.01 L91.20,237.41 M104.02,241.71 L104.02,244.11 M91.01,234.63 L91.01,237.03 M108.25,242.87 L108.25,245.27 M80.79,212.03 L80.79,214.43 M96.79,239.20 L96.79,241.60 M82.01,215.07 L82.01,217.47 " fill="none" stroke="#333" stroke-width="0.6"/>
<path d="M75.60,198.40 L79.00,203.80 L84.40,214.70 L89.00,223.70 L92.60,230.90 L96.20,238.10 L97.10,240.30 L102.00,241.90 L104.80,246.10 L107.60,247.50" fill="none" stroke="#ee1c1c" stroke-width="1.05" stroke-linejoin="round"/>
<path d="M103.15,242.42 L103.15,244.82 M99.05,239.74 L99.05,242.14 M76.38,198.43 L76.38,200.83 M76.92,199.30 L76.92,201.70 M78.39,201.64 L78.39,204.04 M104.70,244.76 L104.70,247.16 M83.28,211.25 L83.28,213.65 M88.99,222.47 L88.99,224.87 M80.10,204.82 L80.10,207.22 M85.25,215.16 L85.25,217.56 M82.02,208.69 L82.02,211.09 M81.19,207.02 L81.19,209.42 M87.63,219.82 L87.63,222.22 M87.61,219.77 L87.61,222.17 M101.22,240.45 L101.22,242.85 M90.84,226.19 L90.84,228.59 M102.81,241.91 L102.81,244.31 M97.15,239.12 L97.15,241.52 M106.82,245.91 L106.82,248.31 M90.48,225.45 L90.48,227.85 M77.37,200.01 L77.37,202.41 M97.50,239.23 L97.50,241.63 M104.66,244.69 L104.66,247.09 M101.26,240.46 L101.26,242.86 M87.13,218.83 L87.13,221.23 M91.95,228.41 L91.95,230.81 M78.28,201.45 L78.28,203.85 M96.30,237.14 L96.30,239.54 M87.27,219.11 L87.27,221.51 M79.77,204.15 L79.77,206.55 M75.99,197.82 L75.99,200.22 M97.04,238.95 L97.04,241.35 M106.72,245.86 L106.72,248.26 M76.27,198.26 L76.27,200.66 M95.13,234.76 L95.13,237.16 M82.62,209.92 L82.62,212.32 M77.16,199.68 L77.16,202.08 M79.95,204.52 L79.95,206.92 M93.94,232.38 L93.94,234.78 M98.53,239.57 L98.53,241.97 M75.82,197.55 L75.82,199.95 M88.59,221.69 L88.59,224.09 M75.83,197.56 L75.83,199.96 M92.12,228.73 L92.12,231.13 M80.74,206.12 L80.74,208.52 " fill="none" stroke="#ee1c1c" stroke-width="0.7"/>
<text x="133" y="202.7" font-size="5" text-anchor="middle" font-weight="bold" font-style="normal" fill="#111" stroke="#111" stroke-width="0.15" dominant-baseline="central"  textLength="47.5" lengthAdjust="spacingAndGlyphs">HR=0.71 (0.55-0.95)</text>
<text x="133" y="209.89999999999998" font-size="5" text-anchor="middle" font-weight="bold" font-style="normal" fill="#111" stroke="#111" stroke-width="0.15" dominant-baseline="central"  textLength="38.2" lengthAdjust="spacingAndGlyphs">logrank <tspan font-style="italic">p</tspan>=0.021</text>
<text x="78.4" y="253.8" font-size="4.8" text-anchor="start" font-weight="bold" font-style="normal" fill="#111" stroke="#111" stroke-width="0.15" dominant-baseline="central"  textLength="25.8" lengthAdjust="spacingAndGlyphs">Expression</text>
<line x1="76.7" y1="260.40000000000003" x2="84.7" y2="260.40000000000003" stroke="#555" stroke-width="0.8"/>
<text x="87.0" y="259.40000000000003" font-size="5" text-anchor="start" font-weight="bold" font-style="normal" fill="#111" stroke="#111" stroke-width="0.15" dominant-baseline="central" >Low</text>
<line x1="76.7" y1="265.1" x2="84.7" y2="265.1" stroke="#ee1c1c" stroke-width="1.1"/>
<text x="87.0" y="265.40000000000003" font-size="5" text-anchor="start" font-weight="bold" font-style="normal" fill="#111" stroke="#111" stroke-width="0.15" dominant-baseline="central" >High</text>
<text x="59.8" y="284.5" font-size="5.1" text-anchor="start" font-weight="normal" font-style="normal" fill="#555" stroke="#555" stroke-width="0.14" dominant-baseline="central"  textLength="33.8" lengthAdjust="spacingAndGlyphs">Number at risk</text>
<text x="59.8" y="290.1" font-size="5.1" text-anchor="start" font-weight="normal" font-style="normal" fill="#555" stroke="#555" stroke-width="0.14" dominant-baseline="central" >Low</text>
<text x="59.8" y="295.7" font-size="5.1" text-anchor="start" font-weight="normal" font-style="normal" fill="#e8201a" stroke="#e8201a" stroke-width="0.14" dominant-baseline="central" >High</text>
<text x="77.4" y="290.1" font-size="5.1" text-anchor="middle" font-weight="normal" font-style="normal" fill="#555" stroke="#555" stroke-width="0.14" dominant-baseline="central" >226</text>
<text x="77.4" y="295.7" font-size="5.1" text-anchor="middle" font-weight="normal" font-style="normal" fill="#e8201a" stroke="#e8201a" stroke-width="0.14" dominant-baseline="central" >278</text>
<text x="93.2" y="290.1" font-size="5.1" text-anchor="middle" font-weight="normal" font-style="normal" fill="#555" stroke="#555" stroke-width="0.14" dominant-baseline="central" >32</text>
<text x="93.2" y="295.7" font-size="5.1" text-anchor="middle" font-weight="normal" font-style="normal" fill="#e8201a" stroke="#e8201a" stroke-width="0.14" dominant-baseline="central" >40</text>
<text x="110" y="290.1" font-size="5.1" text-anchor="middle" font-weight="normal" font-style="normal" fill="#555" stroke="#555" stroke-width="0.14" dominant-baseline="central" >9</text>
<text x="110" y="295.7" font-size="5.1" text-anchor="middle" font-weight="normal" font-style="normal" fill="#e8201a" stroke="#e8201a" stroke-width="0.14" dominant-baseline="central" >7</text>
<text x="126.8" y="290.1" font-size="5.1" text-anchor="middle" font-weight="normal" font-style="normal" fill="#555" stroke="#555" stroke-width="0.14" dominant-baseline="central" >4</text>
<text x="126.8" y="295.7" font-size="5.1" text-anchor="middle" font-weight="normal" font-style="normal" fill="#e8201a" stroke="#e8201a" stroke-width="0.14" dominant-baseline="central" >2</text>
<text x="143.8" y="290.1" font-size="5.1" text-anchor="middle" font-weight="normal" font-style="normal" fill="#555" stroke="#555" stroke-width="0.14" dominant-baseline="central" >2</text>
<text x="143.8" y="295.7" font-size="5.1" text-anchor="middle" font-weight="normal" font-style="normal" fill="#e8201a" stroke="#e8201a" stroke-width="0.14" dominant-baseline="central" >1</text>
<text x="161.3" y="290.1" font-size="5.1" text-anchor="middle" font-weight="normal" font-style="normal" fill="#555" stroke="#555" stroke-width="0.14" dominant-baseline="central" >0</text>
<text x="161.3" y="295.7" font-size="5.1" text-anchor="middle" font-weight="normal" font-style="normal" fill="#e8201a" stroke="#e8201a" stroke-width="0.14" dominant-baseline="central" >0</text>
<rect x="214.2" y="194.8" width="88.60000000000002" height="74.39999999999998" fill="none" stroke="#666" stroke-width="0.7"/>
<text x="208.8" y="264.8" font-size="4.8" text-anchor="middle" font-weight="normal" font-style="normal" fill="#555" stroke="#555" stroke-width="0.14" dominant-baseline="central" transform="rotate(-90 208.8 264.8)" >0.0</text>
<line x1="213.0" y1="264.8" x2="214.2" y2="264.8" stroke="#666" stroke-width="0.5"/>
<text x="208.8" y="251.7" font-size="4.8" text-anchor="middle" font-weight="normal" font-style="normal" fill="#555" stroke="#555" stroke-width="0.14" dominant-baseline="central" transform="rotate(-90 208.8 251.7)" >0.2</text>
<line x1="213.0" y1="251.7" x2="214.2" y2="251.7" stroke="#666" stroke-width="0.5"/>
<text x="208.8" y="238.6" font-size="4.8" text-anchor="middle" font-weight="normal" font-style="normal" fill="#555" stroke="#555" stroke-width="0.14" dominant-baseline="central" transform="rotate(-90 208.8 238.6)" >0.4</text>
<line x1="213.0" y1="238.6" x2="214.2" y2="238.6" stroke="#666" stroke-width="0.5"/>
<text x="208.8" y="225.5" font-size="4.8" text-anchor="middle" font-weight="normal" font-style="normal" fill="#555" stroke="#555" stroke-width="0.14" dominant-baseline="central" transform="rotate(-90 208.8 225.5)" >0.6</text>
<line x1="213.0" y1="225.5" x2="214.2" y2="225.5" stroke="#666" stroke-width="0.5"/>
<text x="208.8" y="212.4" font-size="4.8" text-anchor="middle" font-weight="normal" font-style="normal" fill="#555" stroke="#555" stroke-width="0.14" dominant-baseline="central" transform="rotate(-90 208.8 212.4)" >0.8</text>
<line x1="213.0" y1="212.4" x2="214.2" y2="212.4" stroke="#666" stroke-width="0.5"/>
<text x="208.8" y="199.2" font-size="4.8" text-anchor="middle" font-weight="normal" font-style="normal" fill="#555" stroke="#555" stroke-width="0.14" dominant-baseline="central" transform="rotate(-90 208.8 199.2)" >1.0</text>
<line x1="213.0" y1="199.2" x2="214.2" y2="199.2" stroke="#666" stroke-width="0.5"/>
<text x="217.3" y="275" font-size="5" text-anchor="middle" font-weight="normal" font-style="normal" fill="#555" stroke="#555" stroke-width="0.14" dominant-baseline="central" >0</text>
<line x1="217.3" y1="269.2" x2="217.3" y2="270.4" stroke="#666" stroke-width="0.5"/>
<text x="233.6" y="275" font-size="5" text-anchor="middle" font-weight="normal" font-style="normal" fill="#555" stroke="#555" stroke-width="0.14" dominant-baseline="central" >50</text>
<line x1="233.6" y1="269.2" x2="233.6" y2="270.4" stroke="#666" stroke-width="0.5"/>
<text x="251.7" y="275" font-size="5" text-anchor="middle" font-weight="normal" font-style="normal" fill="#555" stroke="#555" stroke-width="0.14" dominant-baseline="central" >100</text>
<line x1="251.7" y1="269.2" x2="251.7" y2="270.4" stroke="#666" stroke-width="0.5"/>
<text x="268.6" y="275" font-size="5" text-anchor="middle" font-weight="normal" font-style="normal" fill="#555" stroke="#555" stroke-width="0.14" dominant-baseline="central" >150</text>
<line x1="268.6" y1="269.2" x2="268.6" y2="270.4" stroke="#666" stroke-width="0.5"/>
<text x="285.4" y="275" font-size="5" text-anchor="middle" font-weight="normal" font-style="normal" fill="#555" stroke="#555" stroke-width="0.14" dominant-baseline="central" >200</text>
<line x1="285.4" y1="269.2" x2="285.4" y2="270.4" stroke="#666" stroke-width="0.5"/>
<text x="302.4" y="275" font-size="5" text-anchor="middle" font-weight="normal" font-style="normal" fill="#555" stroke="#555" stroke-width="0.14" dominant-baseline="central" >250</text>
<line x1="302.4" y1="269.2" x2="302.4" y2="270.4" stroke="#666" stroke-width="0.5"/>
<text x="258.85" y="281.8" font-size="5.2" text-anchor="middle" font-weight="normal" font-style="normal" fill="#555" stroke="#555" stroke-width="0.14" dominant-baseline="central"  textLength="33.5" lengthAdjust="spacingAndGlyphs">Time (months)</text>
<path d="M252.40,248.10 L253.80,253.00 L297.90,253.00" fill="none" stroke="#555" stroke-width="0.7" stroke-linejoin="round"/>
<path d="M249.60,242.50 L255.20,242.50 L255.90,245.30 L272.00,245.30 L274.10,250.50 L300.00,250.50" fill="none" stroke="#f04848" stroke-width="0.75" stroke-linejoin="round"/>
<line x1="253.8" y1="252.1" x2="253.8" y2="253.9" stroke="#777" stroke-width="0.5"/>
<line x1="255.2" y1="241.6" x2="255.2" y2="243.4" stroke="#f25a5a" stroke-width="0.5"/>
<line x1="255.9" y1="244.4" x2="255.9" y2="246.20000000000002" stroke="#f25a5a" stroke-width="0.5"/>
<line x1="272" y1="244.4" x2="272" y2="246.20000000000002" stroke="#f25a5a" stroke-width="0.5"/>
<line x1="274.1" y1="249.6" x2="274.1" y2="251.4" stroke="#f25a5a" stroke-width="0.5"/>
<path d="M217.10,198.40 L220.10,203.80 L222.80,211.00 L226.40,220.10 L230.00,229.10 L232.80,236.30 L235.50,240.80 L239.10,242.10 L243.60,243.50 L248.10,246.20 L252.40,248.10" fill="none" stroke="#333" stroke-width="0.9" stroke-linejoin="round"/>
<path d="M241.74,241.72 L241.74,244.12 M250.57,246.09 L250.57,248.49 M225.70,217.13 L225.70,219.53 M252.26,246.84 L252.26,249.24 M221.42,206.12 L221.42,208.52 M217.62,198.14 L217.62,200.54 M228.24,223.50 L228.24,225.90 M217.22,197.42 L217.22,199.82 M219.45,201.42 L219.45,203.82 M223.38,211.26 L223.38,213.66 M228.54,224.26 L228.54,226.66 M218.71,200.10 L218.71,202.50 M217.30,197.56 L217.30,199.96 M240.54,241.35 L240.54,243.75 M221.49,206.32 L221.49,208.72 M248.53,245.19 L248.53,247.59 M243.19,242.17 L243.19,244.57 M222.72,209.60 L222.72,212.00 M224.59,214.33 L224.59,216.73 M226.07,218.08 L226.07,220.48 M229.52,226.69 L229.52,229.09 M228.12,223.20 L228.12,225.60 M227.11,220.68 L227.11,223.08 M228.82,224.95 L228.82,227.35 M246.95,244.31 L246.95,246.71 M225.74,217.23 L225.74,219.63 M223.90,212.59 L223.90,214.99 M231.81,232.56 L231.81,234.96 M220.21,202.90 L220.21,205.30 M221.27,205.71 L221.27,208.11 M250.31,245.98 L250.31,248.38 M226.10,218.15 L226.10,220.55 M226.82,219.95 L226.82,222.35 M217.12,197.24 L217.12,199.64 M223.54,211.67 L223.54,214.07 " fill="none" stroke="#333" stroke-width="0.6"/>
<path d="M217.10,198.40 L221.90,202.00 L226.40,211.00 L230.00,218.30 L233.70,226.40 L236.40,232.70 L238.40,236.90 L242.60,238.30 L247.50,240.40 L249.60,242.50" fill="none" stroke="#ee1c1c" stroke-width="1.05" stroke-linejoin="round"/>
<path d="M229.90,216.90 L229.90,219.30 M217.19,197.27 L217.19,199.67 M230.91,219.10 L230.91,221.50 M231.38,220.13 L231.38,222.53 M217.61,197.58 L217.61,199.98 M231.24,219.82 L231.24,222.22 M226.78,210.56 L226.78,212.96 M232.78,223.18 L232.78,225.58 M224.05,205.11 L224.05,207.51 M233.62,225.03 L233.62,227.43 M234.55,227.19 L234.55,229.59 M217.20,197.28 L217.20,199.68 M217.62,197.59 L217.62,199.99 M232.68,222.96 L232.68,225.36 M247.17,239.06 L247.17,241.46 M222.03,201.05 L222.03,203.45 M226.52,210.05 L226.52,212.45 M230.26,217.67 L230.26,220.07 M223.36,203.72 L223.36,206.12 M224.31,205.61 L224.31,208.01 M223.21,203.42 L223.21,205.82 M224.42,205.85 L224.42,208.25 M230.34,217.85 L230.34,220.25 M222.96,202.92 L222.96,205.32 M224.60,206.21 L224.60,208.61 M235.60,229.63 L235.60,232.03 M217.24,197.31 L217.24,199.71 M229.59,216.27 L229.59,218.67 M234.47,226.99 L234.47,229.39 M223.15,203.31 L223.15,205.71 M221.24,200.31 L221.24,202.71 M236.60,231.92 L236.60,234.32 M221.74,200.68 L221.74,203.08 M220.25,199.56 L220.25,201.96 M225.99,208.98 L225.99,211.38 M233.35,224.43 L233.35,226.83 M218.29,198.09 L218.29,200.49 M223.40,203.80 L223.40,206.20 M223.65,204.29 L223.65,206.69 M237.64,234.11 L237.64,236.51 M226.07,209.14 L226.07,211.54 M238.46,235.72 L238.46,238.12 M219.78,199.21 L219.78,201.61 M223.71,204.42 L223.71,206.82 M231.91,221.28 L231.91,223.68 " fill="none" stroke="#ee1c1c" stroke-width="0.7"/>
<text x="274.5" y="200.3" font-size="5" text-anchor="middle" font-weight="bold" font-style="normal" fill="#111" stroke="#111" stroke-width="0.15" dominant-baseline="central"  textLength="47.5" lengthAdjust="spacingAndGlyphs">HR=0.65 (0.49-0.88)</text>
<text x="274.5" y="207.5" font-size="5" text-anchor="middle" font-weight="bold" font-style="normal" fill="#111" stroke="#111" stroke-width="0.15" dominant-baseline="central"  textLength="41" lengthAdjust="spacingAndGlyphs">logrank <tspan font-style="italic">p</tspan>=0.0041</text>
<text x="220" y="253.5" font-size="4.8" text-anchor="start" font-weight="bold" font-style="normal" fill="#111" stroke="#111" stroke-width="0.15" dominant-baseline="central"  textLength="25.8" lengthAdjust="spacingAndGlyphs">Expression</text>
<line x1="218.3" y1="260.1" x2="226.3" y2="260.1" stroke="#555" stroke-width="0.8"/>
<text x="228.6" y="259.1" font-size="5" text-anchor="start" font-weight="bold" font-style="normal" fill="#111" stroke="#111" stroke-width="0.15" dominant-baseline="central" >Low</text>
<line x1="218.3" y1="264.8" x2="226.3" y2="264.8" stroke="#ee1c1c" stroke-width="1.1"/>
<text x="228.6" y="265.1" font-size="5" text-anchor="start" font-weight="bold" font-style="normal" fill="#111" stroke="#111" stroke-width="0.15" dominant-baseline="central" >High</text>
<text x="201.3" y="286" font-size="5.1" text-anchor="start" font-weight="normal" font-style="normal" fill="#555" stroke="#555" stroke-width="0.14" dominant-baseline="central"  textLength="33.8" lengthAdjust="spacingAndGlyphs">Number at risk</text>
<text x="201.3" y="291.6" font-size="5.1" text-anchor="start" font-weight="normal" font-style="normal" fill="#555" stroke="#555" stroke-width="0.14" dominant-baseline="central" >Low</text>
<text x="201.3" y="297.2" font-size="5.1" text-anchor="start" font-weight="normal" font-style="normal" fill="#e8201a" stroke="#e8201a" stroke-width="0.14" dominant-baseline="central" >High</text>
<text x="218.5" y="291.6" font-size="5.1" text-anchor="middle" font-weight="normal" font-style="normal" fill="#555" stroke="#555" stroke-width="0.14" dominant-baseline="central" >235</text>
<text x="218.5" y="297.2" font-size="5.1" text-anchor="middle" font-weight="normal" font-style="normal" fill="#e8201a" stroke="#e8201a" stroke-width="0.14" dominant-baseline="central" >269</text>
<text x="233.6" y="291.6" font-size="5.1" text-anchor="middle" font-weight="normal" font-style="normal" fill="#555" stroke="#555" stroke-width="0.14" dominant-baseline="central" >29</text>
<text x="233.6" y="297.2" font-size="5.1" text-anchor="middle" font-weight="normal" font-style="normal" fill="#e8201a" stroke="#e8201a" stroke-width="0.14" dominant-baseline="central" >43</text>
<text x="251.7" y="291.6" font-size="5.1" text-anchor="middle" font-weight="normal" font-style="normal" fill="#555" stroke="#555" stroke-width="0.14" dominant-baseline="central" >4</text>
<text x="251.7" y="297.2" font-size="5.1" text-anchor="middle" font-weight="normal" font-style="normal" fill="#e8201a" stroke="#e8201a" stroke-width="0.14" dominant-baseline="central" >12</text>
<text x="268.6" y="291.6" font-size="5.1" text-anchor="middle" font-weight="normal" font-style="normal" fill="#555" stroke="#555" stroke-width="0.14" dominant-baseline="central" >1</text>
<text x="268.6" y="297.2" font-size="5.1" text-anchor="middle" font-weight="normal" font-style="normal" fill="#e8201a" stroke="#e8201a" stroke-width="0.14" dominant-baseline="central" >5</text>
<text x="285.4" y="291.6" font-size="5.1" text-anchor="middle" font-weight="normal" font-style="normal" fill="#555" stroke="#555" stroke-width="0.14" dominant-baseline="central" >1</text>
<text x="285.4" y="297.2" font-size="5.1" text-anchor="middle" font-weight="normal" font-style="normal" fill="#e8201a" stroke="#e8201a" stroke-width="0.14" dominant-baseline="central" >2</text>
<text x="302.4" y="291.6" font-size="5.1" text-anchor="middle" font-weight="normal" font-style="normal" fill="#555" stroke="#555" stroke-width="0.14" dominant-baseline="central" >0</text>
<text x="302.4" y="297.2" font-size="5.1" text-anchor="middle" font-weight="normal" font-style="normal" fill="#e8201a" stroke="#e8201a" stroke-width="0.14" dominant-baseline="central" >0</text>
</svg>
</body></html>
